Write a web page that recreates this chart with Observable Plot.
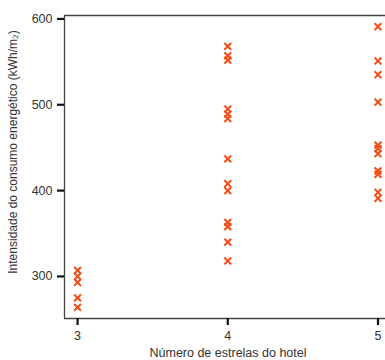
<!DOCTYPE html>
<html>
<head>
<meta charset="utf-8">
<script src="https://cdn.jsdelivr.net/npm/d3@7"></script>
<script src="https://cdn.jsdelivr.net/npm/@observablehq/plot@0.6"></script>
<style>
  html, body { margin: 0; padding: 0; background: #fff; }
  svg { font-family: "Liberation Sans", Arial, sans-serif; }
</style>
</head>
<body>
<div id="chart"></div>
<script>
const stars3 = [307, 300, 293, 275, 264];
const stars4 = [568, 557, 552, 495, 489, 484, 437, 408, 400, 363, 358, 340, 318];
const stars5 = [591, 551, 535, 503, 453, 449, 443, 423, 419, 398, 391];
const xTicks = [3, 4, 5];
const yTicks = [300, 400, 500, 600];
const xDomain = [2.913, 5.05];
const yDomain = [251, 604];

const data = [
  ...stars3.map(v => ({stars: 3, value: v})),
  ...stars4.map(v => ({stars: 4, value: v})),
  ...stars5.map(v => ({stars: 5, value: v}))
];

const color = "#f24d17";

const chart = Plot.plot({
  width: 385,
  height: 360,
  marginLeft: 64,
  marginRight: 0,
  marginTop: 15,
  marginBottom: 42,
  style: {fontSize: "12px", fontFamily: "'Liberation Sans', Arial, sans-serif", color: "#333"},
  x: {domain: xDomain, ticks: xTicks, tickFormat: d => String(d), label: null},
  y: {domain: yDomain, ticks: yTicks, label: null},
  marks: [
    Plot.ruleY([yDomain[1]], {stroke: "#444", strokeWidth: 1.3}),
    Plot.ruleY([yDomain[0]], {stroke: "#444", strokeWidth: 1.3}),
    Plot.ruleX([xDomain[0]], {stroke: "#444", strokeWidth: 1.3}),
    Plot.axisX({ticks: xTicks, tickSize: 7, tickPadding: 6, stroke: "#111", strokeWidth: 2.2, fill: "#333", fontSize: 12.5, label: null, tickFormat: d => String(d)}),
    Plot.axisY({ticks: yTicks, tickSize: 7, tickPadding: 5, stroke: "#111", strokeWidth: 2.2, fill: "#333", fontSize: 12.5, label: null}),
    Plot.dot(data, {x: "stars", y: "value", symbol: "times", r: 3.2, stroke: color, strokeWidth: 2})
  ]
});

const svg = d3.select(chart);
svg.append("text")
  .attr("x", 228).attr("y", 357)
  .attr("text-anchor", "middle")
  .attr("fill", "#333")
  .style("font-size", "12.5px")
  .text("Número de estrelas do hotel");
svg.append("text")
  .attr("transform", "translate(17,152) rotate(-90)")
  .attr("text-anchor", "middle")
  .attr("fill", "#333")
  .style("font-size", "12px")
  .text("Intensidade do consumo energético (kWh/m₂)");

document.getElementById("chart").appendChild(chart);
</script>
</body>
</html>
